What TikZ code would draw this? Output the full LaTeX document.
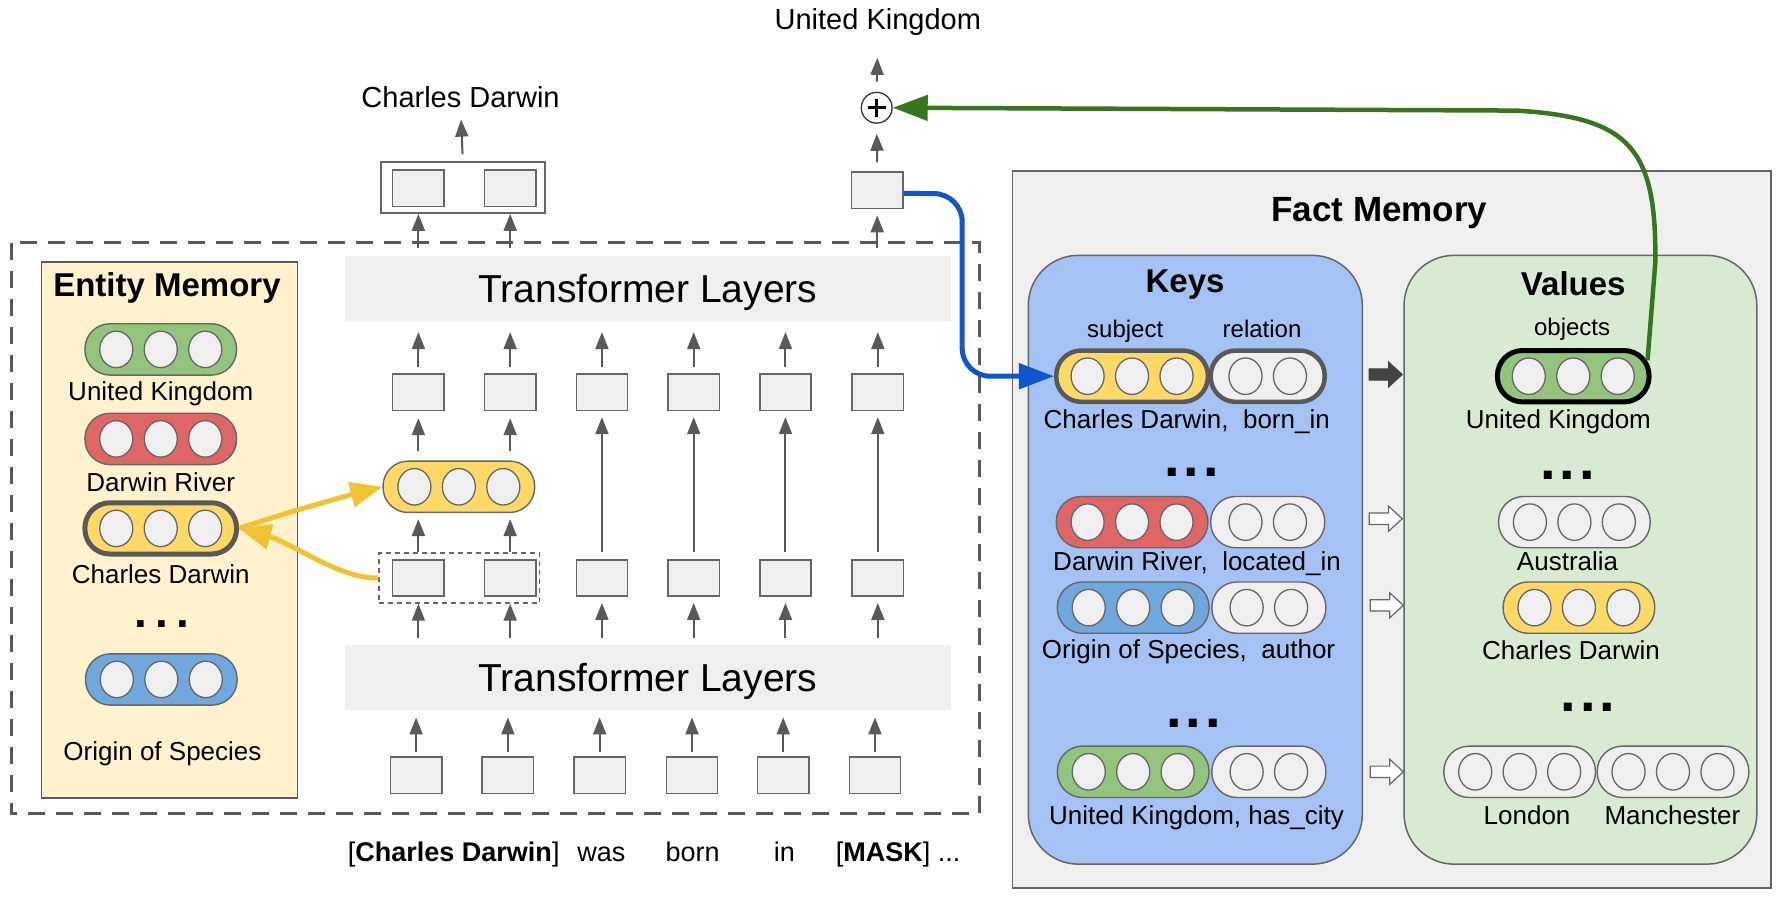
\documentclass[tikz,border=0pt]{standalone}
\usepackage{fontspec}
\setmainfont{Liberation Sans}
\usetikzlibrary{arrows.meta}
\definecolor{cgrayA}{HTML}{666666}
\definecolor{cgrayB}{HTML}{595959}
\definecolor{cfillG}{HTML}{EFEFEF}
\definecolor{cem}{HTML}{FFF2CC}
\definecolor{ckeys}{HTML}{A4C2F4}
\definecolor{cvals}{HTML}{D9EAD3}
\definecolor{pgreen}{HTML}{93C47D}
\definecolor{pred}{HTML}{E06666}
\definecolor{pyellow}{HTML}{FFD966}
\definecolor{pblue}{HTML}{6FA8DC}
\definecolor{ayellow}{HTML}{F1C232}
\definecolor{ablue}{HTML}{1155CC}
\definecolor{agreen}{HTML}{38761D}
\definecolor{cdark}{HTML}{434343}
\newcommand{\vu}[1]{#1*1.14pt}
\newcommand{\pilliii}[5]{%
  \node[pill, fill=#4, minimum width=\vu{133}, #5] (#1) at (#2,#3) {};
  \foreach \dx in {-39,0,39}{\draw[circ] ([xshift=\dx*1.14pt]#1.center) ellipse [x radius=14.5, y radius=16];}}
\newcommand{\pillii}[5]{%
  \node[pill, fill=#4, minimum width=\vu{100}, #5] (#1) at (#2,#3) {};
  \foreach \dx in {-19.5,19.5}{\draw[circ] ([xshift=\dx*1.14pt]#1.center) ellipse [x radius=14.5, y radius=16];}}
\newcommand{\blockarrow}[3]{%
  \draw[#3] (#1,#2-5) -- (#1+17,#2-5) -- (#1+17,#2-11) -- (#1+29,#2) -- (#1+17,#2+11) -- (#1+17,#2+5) -- (#1,#2+5) -- cycle;}
\begin{document}
\begin{tikzpicture}[x=1.14pt,y=-1.14pt,
  gbox/.style={draw=cgrayA, fill=cfillG, line width=1.5pt, minimum width=\vu{45}, minimum height=\vu{32}, inner sep=0},
  garrow/.style={draw=cgrayB, line width=2pt, -{Triangle[length=17pt,width=13pt]}},
  tlayer/.style={fill=cfillG, minimum width=\vu{532}, minimum height=\vu{57}, inner sep=0, text height=28pt, text depth=0pt, font=\fontsize{39}{44}\selectfont},
  pill/.style={draw=cgrayA, line width=1.4pt, rounded corners=25pt, minimum height=\vu{45}, inner sep=0},
  circ/.style={draw=cgrayA, fill=cfillG, line width=1.3pt},
  lbl/.style={inner sep=0, anchor=base, font=\fontsize{26}{30}\selectfont},
  toplbl/.style={inner sep=0, anchor=base, font=\fontsize{29}{33}\selectfont},
  small/.style={inner sep=0, anchor=base, font=\fontsize{24}{28}\selectfont},
  ttl/.style={inner sep=0, anchor=base, font=\fontsize{33}{38}\selectfont\bfseries},
  dots/.style={inner sep=0, anchor=base, font=\fontsize{56}{56}\selectfont\bfseries},
  word/.style={inner sep=0, anchor=base, font=\fontsize{27}{31}\selectfont},
  yarrow/.style={draw=ayellow, line width=5pt, -{Triangle[length=32pt,width=25pt]}},
  barrow/.style={draw=ablue, line width=5pt, -{Triangle[length=35pt,width=25pt]}},
  grarrow/.style={draw=agreen, line width=4.5pt, -{Triangle[length=35pt,width=25pt]}},
  panel/.style={draw=cgrayA, line width=1.5pt, rounded corners=50pt, inner sep=0}
]
\fill[white] (0,0) rectangle (1564,788);
\useasboundingbox (0,0) rectangle (1564,788);

% ---------- Fact memory ----------
\node[draw=cgrayA, fill=cfillG, line width=1.5pt, minimum width=\vu{665.5}, minimum height=\vu{629}, inner sep=0] (fm) at (1220.75,464.5) {};
\node[ttl, font=\fontsize{35}{40}\selectfont\bfseries] (fmt) at (1210,194) {Fact Memory};
\node[panel, fill=ckeys, minimum width=\vu{293}, minimum height=\vu{534}] (keys) at (1048.5,491) {};
\node[panel, fill=cvals, minimum width=\vu{309.4}, minimum height=\vu{534}] (vals) at (1386.3,491) {};
\node[ttl] (keyst) at (1039.5,257) {Keys};
\node[ttl] (valst) at (1380,259) {Values};
\node[small] (subj) at (987,296) {subject};
\node[small] (rel) at (1107,296) {relation};
\node[small] (obj) at (1379,294) {objects};

% keys rows
\pilliii{ks1}{993}{330}{pyellow}{draw=cgrayB, line width=4.5pt}
\pillii{kr1}{1112}{330}{cfillG}{draw=cgrayB, line width=4.5pt}
\node[lbl] (kl1) at (1041,375.5) {Charles Darwin,~ born\_in};
\node[dots] (kd1) at (1045,418) {.\hspace{4pt}.\hspace{4pt}.};
\pilliii{ks2}{993}{458}{pred}{}
\pillii{kr2}{1112}{458}{cfillG}{}
\node[lbl] (kl2) at (1050,500.5) {Darwin River,~ located\_in};
\pilliii{ks3}{994}{533}{pblue}{}
\pillii{kr3}{1113}{533}{cfillG}{}
\node[lbl] (kl3) at (1042.5,577.5) {Origin of Species,~ author};
\node[dots] (kd2) at (1047,638) {.\hspace{4pt}.\hspace{4pt}.};
\pilliii{ks4}{994}{677}{pgreen}{}
\pillii{kr4}{1113}{677}{cfillG}{}
\node[lbl] (kl4) at (1049.5,723.5) {United Kingdom, has\_city};

% values
\pilliii{vuk}{1380}{330}{pgreen}{draw=black, line width=5pt}
\node[lbl] (vl1) at (1367,375.5) {United Kingdom};
\node[dots] (vd1) at (1375,421) {.\hspace{4pt}.\hspace{4pt}.};
\pilliii{vau}{1381}{458}{cfillG}{}
\node[lbl] (vl2) at (1375,500.5) {Australia};
\pilliii{vcd}{1385}{533}{pyellow}{}
\node[lbl] (vl3) at (1378,578.5) {Charles Darwin};
\node[dots] (vd2) at (1393,624.5) {.\hspace{4pt}.\hspace{4pt}.};
\pilliii{vlo}{1333}{677}{cfillG}{}
\pilliii{vma}{1467.5}{677}{cfillG}{}
\node[lbl] (vl4) at (1339.5,723.5) {London};
\node[lbl] (vl5) at (1467,723.5) {Manchester};

% block arrows keys -> values
\blockarrow{1201}{328.5}{draw=cdark, fill=cdark, line width=1pt}
\blockarrow{1201}{455}{draw=cgrayA, fill=white, line width=1.2pt}
\blockarrow{1202}{531}{draw=cgrayA, fill=white, line width=1.2pt}
\blockarrow{1202}{677}{draw=cgrayA, fill=white, line width=1.2pt}

% ---------- left part ----------
\draw[draw=cgrayB, line width=3pt, dash pattern=on 17pt off 11pt] (10,213) rectangle (859,714);

\node[draw=gray!70!black, fill=cem, line width=1.5pt, minimum width=\vu{224.5}, minimum height=\vu{470}, inner sep=0] (em) at (148.8,465) {};
\node[ttl] (emt) at (146.5,260.5) {Entity Memory};
\pilliii{euk}{141}{306.5}{pgreen}{}
\node[lbl] (eukl) at (141,351) {United Kingdom};
\pilliii{edr}{141}{385}{pred}{}
\node[lbl] (edrl) at (141,431.5) {Darwin River};
\pilliii{ecd}{141}{463.5}{pyellow}{draw=cgrayB, line width=5pt}
\node[lbl] (ecdl) at (141,511.6) {Charles Darwin};
\node[dots, font=\fontsize{46}{46}\selectfont\bfseries] (ed) at (141.8,550) {.\hspace{8pt}.\hspace{8pt}.};
\pilliii{eos}{141.5}{596}{pblue}{}
\node[lbl] (eosl) at (142.5,666.7) {Origin of Species};

% transformer layers
\node[tlayer] (tl2) at (568.25,253) {Transformer Layers};
\node[tlayer] (tl1) at (568.25,594.5) {Transformer Layers};

% top outputs
\node[toplbl] (uk) at (770,26) {United Kingdom};
\node[toplbl] (cd) at (404,94) {Charles Darwin};
\node[circle, draw=black!80, fill=white, line width=1.3pt, minimum size=\vu{27}, inner sep=0] (plus) at (769,94.5) {};
\draw[line width=2.6pt] ([xshift=-9pt]plus.center) -- ([xshift=9pt]plus.center);
\draw[line width=2.6pt] ([yshift=-9pt]plus.center) -- ([yshift=9pt]plus.center);
\node[draw=cgrayA, fill=white, line width=1.5pt, minimum width=\vu{144}, minimum height=\vu{45}, inner sep=0] (outer) at (406,164.5) {};
\node[gbox] (oc1) at (367,165) {};
\node[gbox] (oc2) at (447.5,165) {};
\node[gbox] (o6) at (769.5,167) {};

% rows of boxes
\foreach \i/\x in {1/367,2/447.5,3/528,4/608.5,5/689,6/770}{
  \node[gbox] (u\i) at (\x,344) {};
  \node[gbox] (l\i) at (\x,507) {};
}
\foreach \i/\x in {1/365,2/445.5,3/526,4/607,5/687,6/767.5}{
  \node[gbox] (b\i) at (\x,680) {};
}
\node[draw=cgrayA, dash pattern=on 5pt off 4pt, line width=1.3pt, minimum width=\vu{141}, minimum height=\vu{44}, inner sep=0] (dbox) at (403,507) {};
\pilliii{mp}{402.5}{427}{pyellow}{}

% bottom words
\node[word] (w1) at (398,756) {[\textbf{Charles Darwin}]};
\node[word] (w2) at (527.6,756) {was};
\node[word] (w3) at (607.5,756) {born};
\node[word] (w4) at (688,756) {in};
\node[word] (w5) at (787.8,756) {[\textbf{MASK}] ...};

% ---------- gray arrows ----------
\draw[garrow, shorten <=10pt, shorten >=22pt] (plus.north) -- (uk.south);
\draw[garrow, shorten <=9pt, shorten >=10pt] (o6.north) -- (plus.south);
\draw[garrow, shorten <=7pt, shorten >=12pt] (outer.north) -- (cd.south);
\foreach \c in {oc1,oc2}{
  \draw[garrow, shorten <=8pt] (tl2.north -| \c) -- (outer.south -| \c);
}
\draw[garrow, shorten <=8pt, shorten >=6pt] (tl2.north -| o6) -- (o6.south);
\foreach \i in {1,...,6}{
  \draw[garrow, shorten <=6pt, shorten >=11pt] (u\i.north) -- (tl2.south -| u\i);
  \draw[garrow, shorten <=4pt, shorten >=7pt] (b\i.north) -- (tl1.south -| b\i);
}
\foreach \i in {1,2}{
  \draw[garrow, shorten <=9pt, shorten >=7pt] (mp.north -| u\i) -- (u\i.south);
  \draw[garrow, shorten >=6pt] (dbox.north -| l\i) -- (mp.south -| l\i);
  \draw[garrow, shorten <=7pt] (tl1.north -| l\i) -- (dbox.south -| l\i);
}
\foreach \i in {3,...,6}{
  \draw[garrow, shorten <=7pt, shorten >=6pt] (l\i.north) -- (u\i.south);
  \draw[garrow, shorten <=7pt, shorten >=6pt] (tl1.north -| l\i) -- (l\i.south);
}

% ---------- coloured arrows ----------
\draw[yarrow] (ecd.east) .. controls (250,450) and (300,436) .. (mp.west);
\draw[yarrow] (dbox.west) .. controls (298,508) and (256,476) .. (ecd.east);
\draw[barrow, rounded corners=28pt] ([yshift=-3pt]o6.east) -- (844,170) -- (844,330) -- (ks1.west);
\coordinate (gstart) at ([xshift=-4pt,yshift=16pt]vuk.east);
\draw[grarrow] (gstart) -- (1452,230) .. controls (1453,130) and (1430,103) .. (1330,97) -- (plus.east);
\end{tikzpicture}
\end{document}
